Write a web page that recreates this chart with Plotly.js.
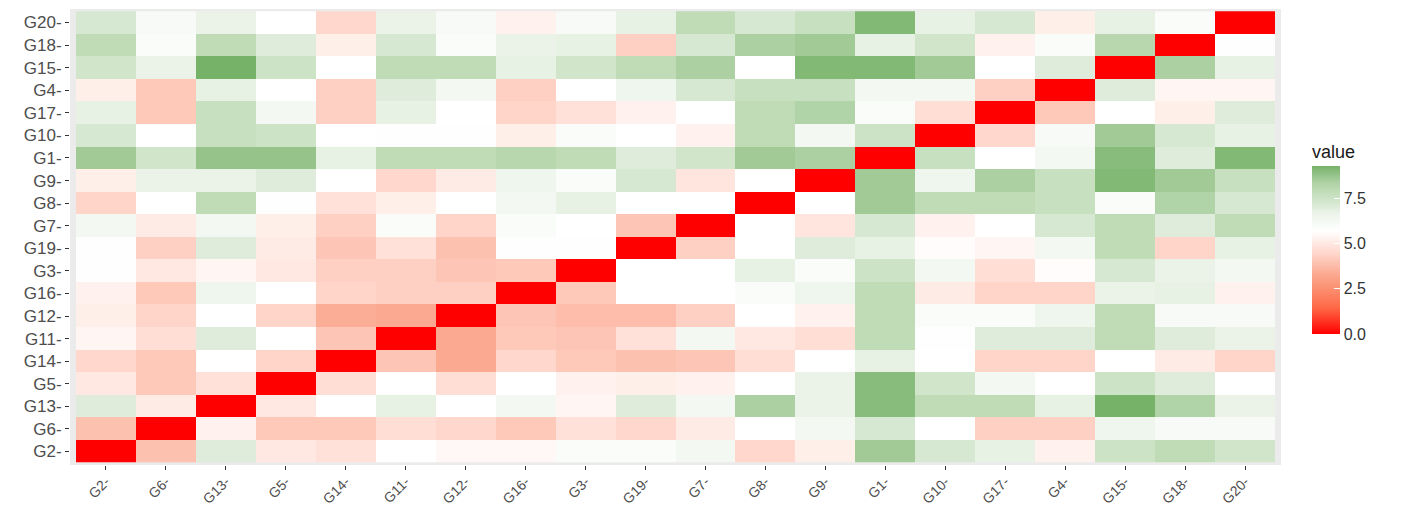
<!DOCTYPE html>
<html>
<head>
<meta charset="utf-8">
<script src="https://cdn.plot.ly/plotly-3.0.1.min.js"></script>
<style>html,body{margin:0;padding:0;background:#fff;}#chart{width:1405px;height:507px;}</style>
</head>
<body>
<div id="chart"></div>
<script>
// category order (x left->right, y bottom->top)
var genes = ["G2-","G6-","G13-","G5-","G14-","G11-","G12-","G16-","G3-","G19-","G7-","G8-","G9-","G1-","G10-","G17-","G4-","G15-","G18-","G20-"];

// one row per gene, values in the column order of `genes`
var rowG2  = [0,3.9,7.0,5.0,4.8,5.7,5.5,5.5,6.0,6.0, 6.3,4.5,5.2,8.6,7.2,6.8,5.3,7.5,7.9,7.4];
var rowG6  = [3.9,0,5.3,4.1,4.1,4.7,4.5,4.1,4.8,4.5, 5.1,5.7,6.3,7.2,5.7,4.3,4.3,6.5,6.1,6.1];
var rowG13 = [7.0,5.1,0,5.0,5.7,6.8,5.7,6.3,5.4,7.0, 6.3,8.4,6.7,9.0,7.9,7.9,6.8,9.3,8.3,6.7];
var rowG5  = [5.0,4.1,4.8,0,4.7,5.7,4.7,5.7,5.3,5.2, 5.3,5.7,6.7,9.0,7.4,6.3,5.7,7.5,7.0,5.7];
var rowG14 = [4.5,4.1,5.7,4.4,0,4.0,3.3,4.5,4.1,3.9, 4.0,4.7,5.7,6.8,5.7,4.4,4.4,5.7,5.1,4.4];
var rowG11 = [5.4,4.7,7.0,5.7,4.0,0,3.3,4.1,4.0,4.8, 6.3,5.0,4.7,7.9,5.8,7.0,7.0,7.9,7.0,6.7];
var rowG12 = [5.2,4.4,5.7,4.4,3.4,3.3,0,4.0,3.8,3.8, 4.3,5.7,5.3,7.9,6.0,6.0,6.5,7.9,6.1,6.1];
var rowG16 = [5.3,4.1,6.5,5.7,4.4,4.3,4.3,0,4.1,5.7, 5.7,6.0,6.5,7.9,5.1,4.4,4.4,6.7,6.8,5.3];
var rowG3  = [5.8,5.0,5.4,5.0,4.3,4.3,4.0,4.1,0,5.7, 5.7,6.8,6.0,7.5,6.3,4.7,5.6,7.2,6.7,6.3];
var rowG19 = [5.8,4.3,7.0,5.1,4.0,4.8,3.9,5.8,5.8,0, 4.3,5.7,7.0,6.8,5.6,5.4,6.3,7.9,4.4,6.8];
var rowG7  = [6.3,5.1,6.3,5.2,4.3,6.0,4.4,6.0,5.7,4.0, 0,5.7,4.9,7.2,5.3,5.7,7.2,7.9,7.0,7.9];
var rowG8  = [4.4,5.7,7.9,5.8,4.8,5.2,5.7,6.3,6.8,5.7, 5.7,0,5.7,8.6,7.9,7.9,7.7,6.0,8.3,7.2];
var rowG9  = [5.2,6.7,6.7,7.0,5.7,4.5,5.1,6.5,6.0,7.2, 4.9,5.7,0,8.6,6.5,8.4,7.7,9.1,8.6,7.7];
var rowG1  = [8.6,7.4,8.8,8.8,6.8,7.9,7.9,8.1,7.9,7.0, 7.4,8.6,8.4,0,7.7,5.7,6.3,9.0,7.0,9.1];
var rowG10 = [7.2,5.7,7.7,7.5,5.7,5.8,5.8,5.2,6.0,5.7, 5.3,7.9,6.3,7.5,0,4.5,6.1,8.6,7.2,6.8];
var rowG17 = [6.8,4.1,7.7,6.3,4.3,6.8,5.7,4.4,4.8,5.3, 5.7,7.9,8.3,6.0,4.7,0,4.1,5.7,5.2,7.0];
var rowG4  = [5.2,4.1,6.8,5.7,4.3,7.0,6.3,4.3,5.7,6.5, 7.2,7.7,7.7,6.3,6.3,4.3,0,7.0,5.4,5.4];
var rowG15 = [7.4,6.7,9.3,7.5,5.7,7.9,7.9,6.8,7.4,7.9, 8.4,5.7,9.1,9.1,8.6,5.7,7.0,0,8.4,6.8];
var rowG18 = [7.9,6.0,7.9,7.0,5.2,7.2,6.0,6.7,6.8,4.3, 7.2,8.4,8.6,6.8,7.4,5.3,6.0,8.1,0,5.8];
var rowG20 = [7.2,6.1,6.7,5.7,4.5,6.7,6.1,5.3,6.1,6.8, 7.9,7.2,7.7,9.1,6.8,7.2,5.2,6.8,6.0,0];

var legendTicks = [0, 2.5, 5, 7.5];
var legendLabels = ["0.0", "2.5", "5.0", "7.5"];

var zRows = [rowG2,rowG6,rowG13,rowG5,rowG14,rowG11,rowG12,rowG16,rowG3,rowG19,
             rowG7,rowG8,rowG9,rowG1,rowG10,rowG17,rowG4,rowG15,rowG18,rowG20];

var zMax = 9.3;
var stops = [
  [0, 'rgb(255,0,0)'], [1.44, 'rgb(255,104,70)'], [2.69, 'rgb(250,150,120)'],
  [3.32, 'rgb(251,170,145)'], [3.95, 'rgb(253,195,178)'], [4.49, 'rgb(255,215,205)'],
  [5.12, 'rgb(255,236,230)'], [5.7, 'rgb(255,255,255)'], [6.67, 'rgb(236,244,234)'],
  [7.19, 'rgb(215,232,210)'], [7.72, 'rgb(198,224,190)'], [8.42, 'rgb(172,208,162)'],
  [9.3, 'rgb(118,178,104)']
];
var colorscale = stops.map(function (s) { return [s[0] / zMax, s[1]]; });

var trace = {
  type: 'heatmap',
  x: genes,
  y: genes,
  z: zRows,
  zmin: 0,
  zmax: zMax,
  colorscale: colorscale,
  xgap: 0, ygap: 0,
  colorbar: {
    title: { text: 'value', side: 'top', font: { family: 'Liberation Sans, Arial, sans-serif', size: 18, color: '#1a1a1a' } },
    thickness: 28,
    len: 193, lenmode: 'pixels',
    x: 1.0256, xanchor: 'left', xpad: 0,
    y: 0.4989, yanchor: 'middle', ypad: 0,
    outlinewidth: 0,
    tickmode: 'array', tickvals: legendTicks, ticktext: legendLabels,
    ticks: 'inside', ticklen: 6, tickcolor: '#ffffff', tickwidth: 1,
    tickfont: { family: 'Liberation Sans, Arial, sans-serif', size: 16, color: '#333333' }
  }
};

var yFont = { family: 'Liberation Sans, Arial, sans-serif', size: 17, color: '#4D4D4D' };
var xFont = { family: 'Liberation Sans, Arial, sans-serif', size: 14, color: '#4D4D4D' };

var layout = {
  width: 1405, height: 507,
  margin: { l: 70, r: 124, t: 9, b: 42, pad: 0 },
  paper_bgcolor: '#ffffff',
  plot_bgcolor: '#EBEBEB',
  xaxis: {
    type: 'category', range: [-0.6, 19.6], showgrid: false, zeroline: false,
    ticks: 'outside', ticklen: 4, tickcolor: '#333333', tickwidth: 1,
    tickangle: -45, tickfont: xFont, ticklabelstandoff: -2,
    showline: false, fixedrange: true, automargin: false
  },
  yaxis: {
    type: 'category', range: [-0.6, 19.6], showgrid: false, zeroline: false,
    ticks: 'outside', ticklen: 4, tickcolor: '#333333', tickwidth: 1,
    tickfont: yFont, showline: false, fixedrange: true, automargin: false
  }
};

Plotly.newPlot('chart', [trace], layout, { displayModeBar: false, staticPlot: true });
</script>
</body>
</html>
